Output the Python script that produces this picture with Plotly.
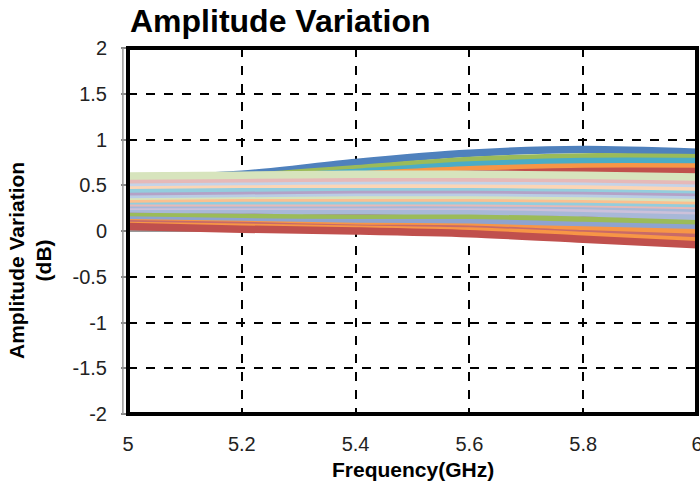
import plotly.graph_objects as go

# ---------------- data ----------------
frequency_ghz = [5.0, 5.2, 5.4, 5.6, 5.8, 6.0]

x_tick_vals = [5.0, 5.2, 5.4, 5.6, 5.8, 6.0]
x_tick_text = ["5", "5.2", "5.4", "5.6", "5.8", "6"]
y_tick_vals = [2, 1.5, 1, 0.5, 0, -0.5, -1, -1.5, -2]
y_tick_text = ["2", "1.5", "1", "0.5", "0", "-0.5", "-1", "-1.5", "-2"]

# upper (saturated) group
up_blue = [0.57, 0.62, 0.75, 0.85, 0.89, 0.86]
up_green = [0.55, 0.59, 0.68, 0.77, 0.81, 0.80]
up_teal = [0.53, 0.57, 0.64, 0.72, 0.76, 0.76]
up_orange = [0.51, 0.55, 0.61, 0.67, 0.70, 0.70]
up_red = [0.49, 0.53, 0.58, 0.62, 0.65, 0.65]

# lower (saturated) group
lo_brown = [0.21, 0.19, 0.17, 0.16, 0.13, 0.11]
lo_green = [0.16, 0.15, 0.14, 0.15, 0.12, 0.09]
lo_blue = [0.12, 0.10, 0.09, 0.09, 0.06, 0.03]
lo_orange = [0.09, 0.07, 0.05, 0.04, 0.01, -0.02]
lo_rose = [0.08, 0.06, 0.03, 0.02, -0.03, -0.07]
lo_orange2 = [0.06, 0.04, 0.02, 0.00, -0.05, -0.11]
lo_red = [0.05, 0.02, 0.00, -0.03, -0.09, -0.15]

# middle (pale) group
mid_1 = [0.60, 0.61, 0.62, 0.62, 0.61, 0.59]
mid_2 = [0.56, 0.57, 0.58, 0.58, 0.57, 0.55]
mid_3 = [0.53, 0.54, 0.55, 0.55, 0.54, 0.52]
mid_4 = [0.50, 0.51, 0.51, 0.51, 0.50, 0.48]
mid_5 = [0.46, 0.47, 0.48, 0.48, 0.47, 0.45]
mid_6 = [0.43, 0.44, 0.45, 0.45, 0.44, 0.42]
mid_7 = [0.40, 0.41, 0.42, 0.42, 0.41, 0.39]
mid_8 = [0.38, 0.39, 0.39, 0.39, 0.38, 0.36]
mid_9 = [0.35, 0.36, 0.36, 0.36, 0.35, 0.33]
mid_10 = [0.33, 0.33, 0.33, 0.33, 0.32, 0.30]
mid_11 = [0.31, 0.31, 0.31, 0.31, 0.30, 0.28]
mid_12 = [0.29, 0.29, 0.29, 0.29, 0.28, 0.25]
mid_13 = [0.27, 0.27, 0.27, 0.27, 0.25, 0.22]
mid_14 = [0.24, 0.23, 0.22, 0.22, 0.20, 0.16]

# ---------------- styling ----------------
series = [
    (up_blue, "#4F81BD"), (up_green, "#9BBB59"), (up_teal, "#4BACC6"),
    (up_orange, "#F79646"), (up_red, "#C0504D"),
    (lo_brown, "#A0522D"), (lo_green, "#9BBB59"), (lo_blue, "#8EA3CF"),
    (lo_orange, "#F79646"), (lo_rose, "#C86A68"), (lo_orange2, "#F79646"),
    (lo_red, "#C0504D"),
    (mid_14, "#A8B8D8"),
    (mid_13, "#CCC1DA"), (mid_12, "#A6B8D9"), (mid_11, "#E6B9B8"),
    (mid_10, "#93CDDD"), (mid_9, "#FAC090"), (mid_8, "#D7E4BD"),
    (mid_7, "#B9CDE5"), (mid_6, "#B3A2C7"), (mid_5, "#93CDDD"),
    (mid_4, "#FCD5B5"), (mid_3, "#C5D3E8"), (mid_2, "#E6B9B8"),
    (mid_1, "#D7E4BD"),
]

fig = go.Figure()
for vals, col in series:
    fig.add_trace(go.Scatter(
        x=frequency_ghz, y=vals, mode="lines",
        line=dict(color=col, width=7.5, shape="spline", smoothing=0.8),
        showlegend=False, hoverinfo="skip",
    ))

FONT = "Liberation Sans, Arial, sans-serif"

fig.update_layout(
    width=700, height=487,
    margin=dict(l=128, r=3, t=48, b=73),
    paper_bgcolor="white", plot_bgcolor="white",
    font=dict(family=FONT, color="#222222", size=20),
    title=dict(text="<b>Amplitude Variation</b>", x=130 / 700, xanchor="left",
               xref="container", y=1 - 21 / 487, yanchor="middle", yref="container",
               font=dict(size=32, color="black", family=FONT)),
    xaxis=dict(range=[5, 6], tickvals=x_tick_vals, ticktext=x_tick_text,
               showgrid=True, gridcolor="black", griddash="dash", gridwidth=2,
               zeroline=False, showline=False, ticks="", ticklabelstandoff=16,
               automargin=False, ticklabeloverflow="allow", tickfont=dict(size=20)),
    yaxis=dict(range=[-2, 2], tickvals=y_tick_vals, ticktext=y_tick_text,
               showgrid=True, gridcolor="black", griddash="dash", gridwidth=2,
               zeroline=True, zerolinecolor="#999999", zerolinewidth=2,
               showline=False, ticks="outside", ticklen=6, tickcolor="#888888",
               tickwidth=1.5, ticklabelstandoff=10, automargin=False,
               ticklabeloverflow="allow", tickfont=dict(size=20)),
    annotations=[
        dict(text="<b>Frequency(GHz)</b>", xref="paper", yref="paper",
             x=0.5, y=(414 - 469) / 366, xanchor="center", yanchor="middle", showarrow=False,
             font=dict(size=21, color="black")),
        dict(text="<b>Amplitude Variation<br>(dB)</b>", xref="paper", yref="paper",
             x=(30 - 128) / 569, y=(414 - 261) / 366, xanchor="center", yanchor="middle",
             textangle=-90, showarrow=False, font=dict(size=21, color="black")),
    ],
    shapes=[
        dict(type="line", xref="paper", yref="paper", x0=-0.009, x1=-0.009, y0=0, y1=1,
             line=dict(color="#999999", width=1.5), layer="above"),
        dict(type="rect", xref="paper", yref="paper", x0=0, x1=1, y0=0, y1=1,
             line=dict(color="black", width=4), layer="above"),
    ],
)

fig.write_html("out.html", config={"displayModeBar": False},
               post_script="document.body.style.margin='0';document.body.style.overflow='hidden';")
